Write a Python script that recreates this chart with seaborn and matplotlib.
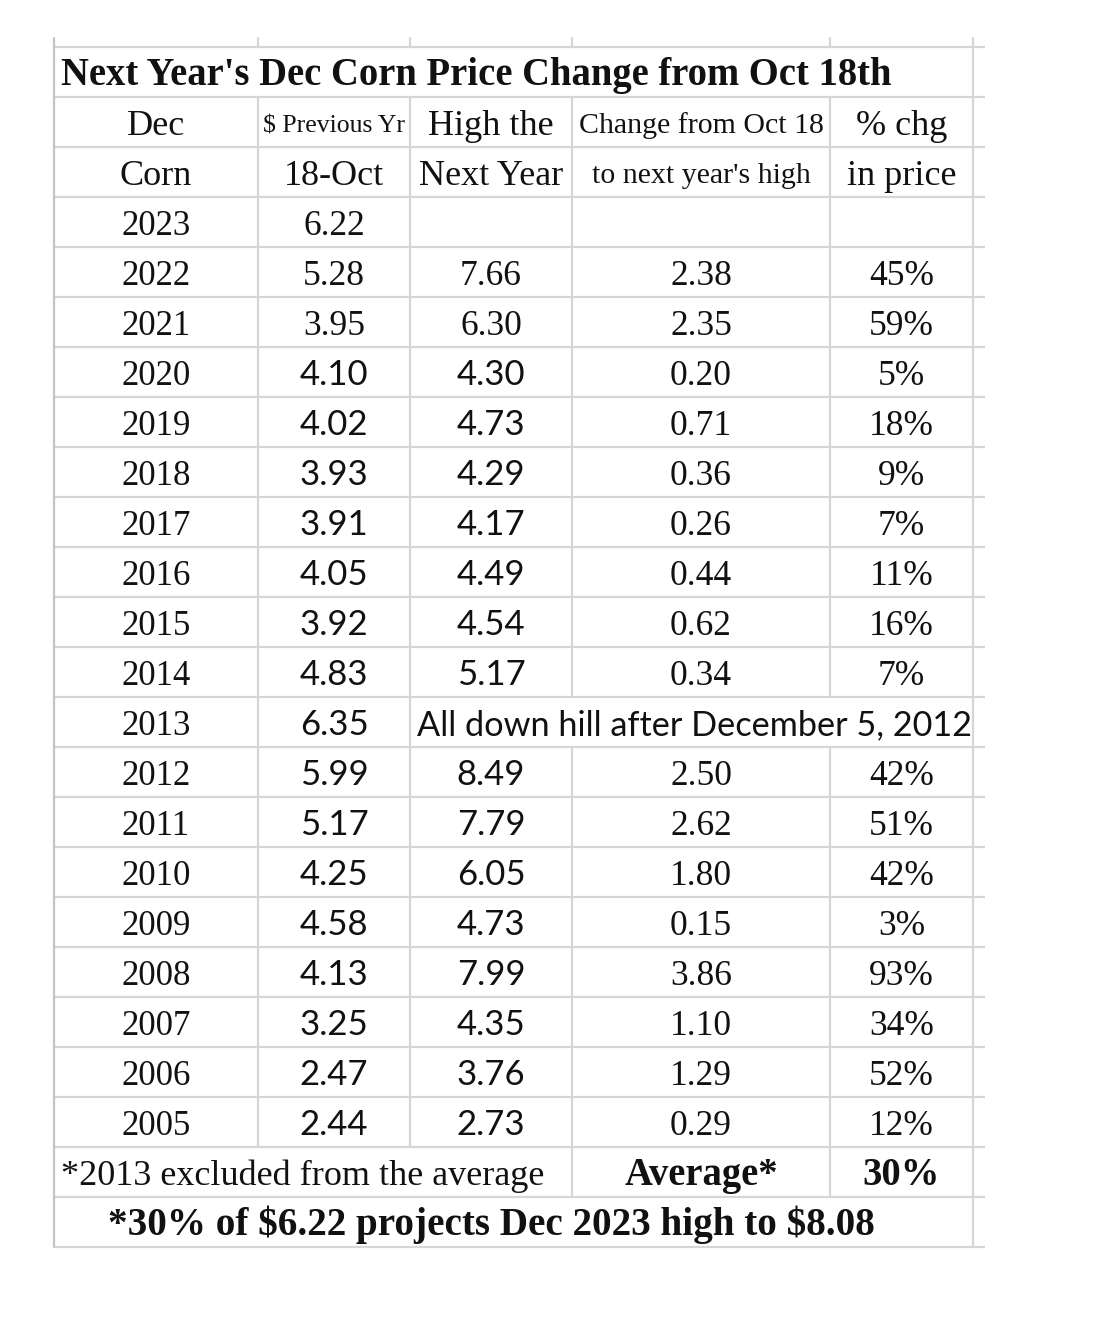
import matplotlib
matplotlib.use("Agg")
import matplotlib.pyplot as plt
import seaborn as sns

# ---------------- data ----------------
title = "Next Year's Dec Corn Price Change from Oct 18th"
header1 = ["Dec", "$ Previous Yr", "High the", "Change from Oct 18", "% chg"]
header2 = ["Corn", "18-Oct", "Next Year", "to next year's high", "in price"]
years = [2023, 2022, 2021, 2020, 2019, 2018, 2017, 2016, 2015, 2014,
         2013, 2012, 2011, 2010, 2009, 2008, 2007, 2006, 2005]
prev_oct18 = [6.22, 5.28, 3.95, 4.10, 4.02, 3.93, 3.91, 4.05, 3.92, 4.83,
              6.35, 5.99, 5.17, 4.25, 4.58, 4.13, 3.25, 2.47, 2.44]
high_next = [None, 7.66, 6.30, 4.30, 4.73, 4.29, 4.17, 4.49, 4.54, 5.17,
             None, 8.49, 7.79, 6.05, 4.73, 7.99, 4.35, 3.76, 2.73]
change = [None, 2.38, 2.35, 0.20, 0.71, 0.36, 0.26, 0.44, 0.62, 0.34,
          None, 2.50, 2.62, 1.80, 0.15, 3.86, 1.10, 1.29, 0.29]
pct_chg = [None, 45, 59, 5, 18, 9, 7, 11, 16, 7,
           None, 42, 51, 42, 3, 93, 34, 52, 12]
note_2013 = "All down hill after December 5, 2012"
foot_left = "*2013 excluded from the average"
foot_mid = "Average*"
foot_avg = "30%"
foot_last = "*30% of $6.22 projects Dec 2023 high to $8.08"

# ---------------- style ----------------
sns.set_theme(style="white")
SERIF = ["Liberation Serif", "DejaVu Serif"]
SANS = ["Lato", "DejaVu Sans"]
plt.rcParams["font.family"] = SERIF

W, H = 1096, 1322
fig = plt.figure(figsize=(W / 100, H / 100), dpi=100)
ax = fig.add_axes([0, 0, 1, 1])
ax.set_xlim(0, W)
ax.set_ylim(H, 0)
ax.axis("off")

GRID = "#d6d6d6"
LW = 1.6
col_edges = [54, 258, 410, 572, 830, 973]
right_end = 985
top = 47
rh = 50
n_rows = 3 + len(years) + 2  # title, 2 header, data, 2 footer
centers = [(col_edges[i] + col_edges[i + 1]) / 2 for i in range(5)]

def row_y(i):
    return top + rh * i

# horizontal lines
for i in range(n_rows + 1):
    ax.plot([col_edges[0], right_end], [row_y(i)] * 2, color=GRID, lw=LW, solid_capstyle="butt")

def vline(x, r):
    ax.plot([x, x], [row_y(r), row_y(r + 1)], color=GRID, lw=LW, solid_capstyle="butt")

# left border (slightly darker), incl. stub above
ax.plot([col_edges[0]] * 2, [38, row_y(n_rows)], color="#c4c4c4", lw=LW)
for x in col_edges[1:]:
    ax.plot([x, x], [38, top], color=GRID, lw=LW)
vline(col_edges[5], 0)
for r in range(1, n_rows):
    idx = r - 3
    if r in (1, 2) or (0 <= idx < len(years) and years[idx] != 2013):
        xs = col_edges[1:]
    elif 0 <= idx < len(years):  # 2013 row
        xs = [col_edges[1], col_edges[2], col_edges[5]]
    elif r == n_rows - 2:
        xs = [col_edges[3], col_edges[4], col_edges[5]]
    else:
        xs = [col_edges[5]]
    for x in xs:
        vline(x, r)

FS = 25.5
FS_YEAR = 25
FS_SANS = 25
FS_BOLD = 27.8
TXT = "#111111"

def put(x, r, s, fam=SERIF, size=FS, weight="normal", ha="center", dy=38):
    ax.text(x, row_y(r) + dy, s, ha=ha, va="baseline", fontsize=size,
            family=fam, weight=weight, color=TXT, parse_math=False)

# title
put(61, 0, title, size=FS_BOLD, weight="bold", ha="left", dy=38)
# headers
hsize1 = [26, 18.5, 26, 21.5, 26]
hsize2 = [26, 26, 26, 21.5, 26]
for c in range(5):
    put(centers[c], 1, header1[c], size=hsize1[c], dy=36 if hsize1[c] < 22 else 38)
    put(centers[c], 2, header2[c], size=hsize2[c], dy=36 if hsize2[c] < 22 else 38)

# data rows
for k, yr in enumerate(years):
    r = 3 + k
    put(centers[0], r, str(yr), size=FS_YEAR)
    serif_row = k < 3
    fam23 = SERIF if serif_row else SANS
    s23 = FS if serif_row else FS_SANS
    put(centers[1], r, f"{prev_oct18[k]:.2f}", fam=fam23, size=s23)
    if yr == 2013:
        put(col_edges[2] + 7, r, note_2013, fam=SANS, size=24.7, ha="left")
        continue
    if high_next[k] is not None:
        put(centers[2], r, f"{high_next[k]:.2f}", fam=fam23, size=s23)
    if change[k] is not None:
        put(centers[3], r, f"{change[k]:.2f}")
    if pct_chg[k] is not None:
        put(centers[4], r, f"{pct_chg[k]}%")

# footer
rf = 3 + len(years)
put(61, rf, foot_left, ha="left", size=26)
put(centers[3], rf, foot_mid, weight="bold", size=FS_BOLD)
put(centers[4], rf, foot_avg, weight="bold", size=FS_BOLD)
put(491, rf + 1, foot_last, weight="bold", size=28.2)

fig.savefig("out.png", dpi=100, facecolor="white")
